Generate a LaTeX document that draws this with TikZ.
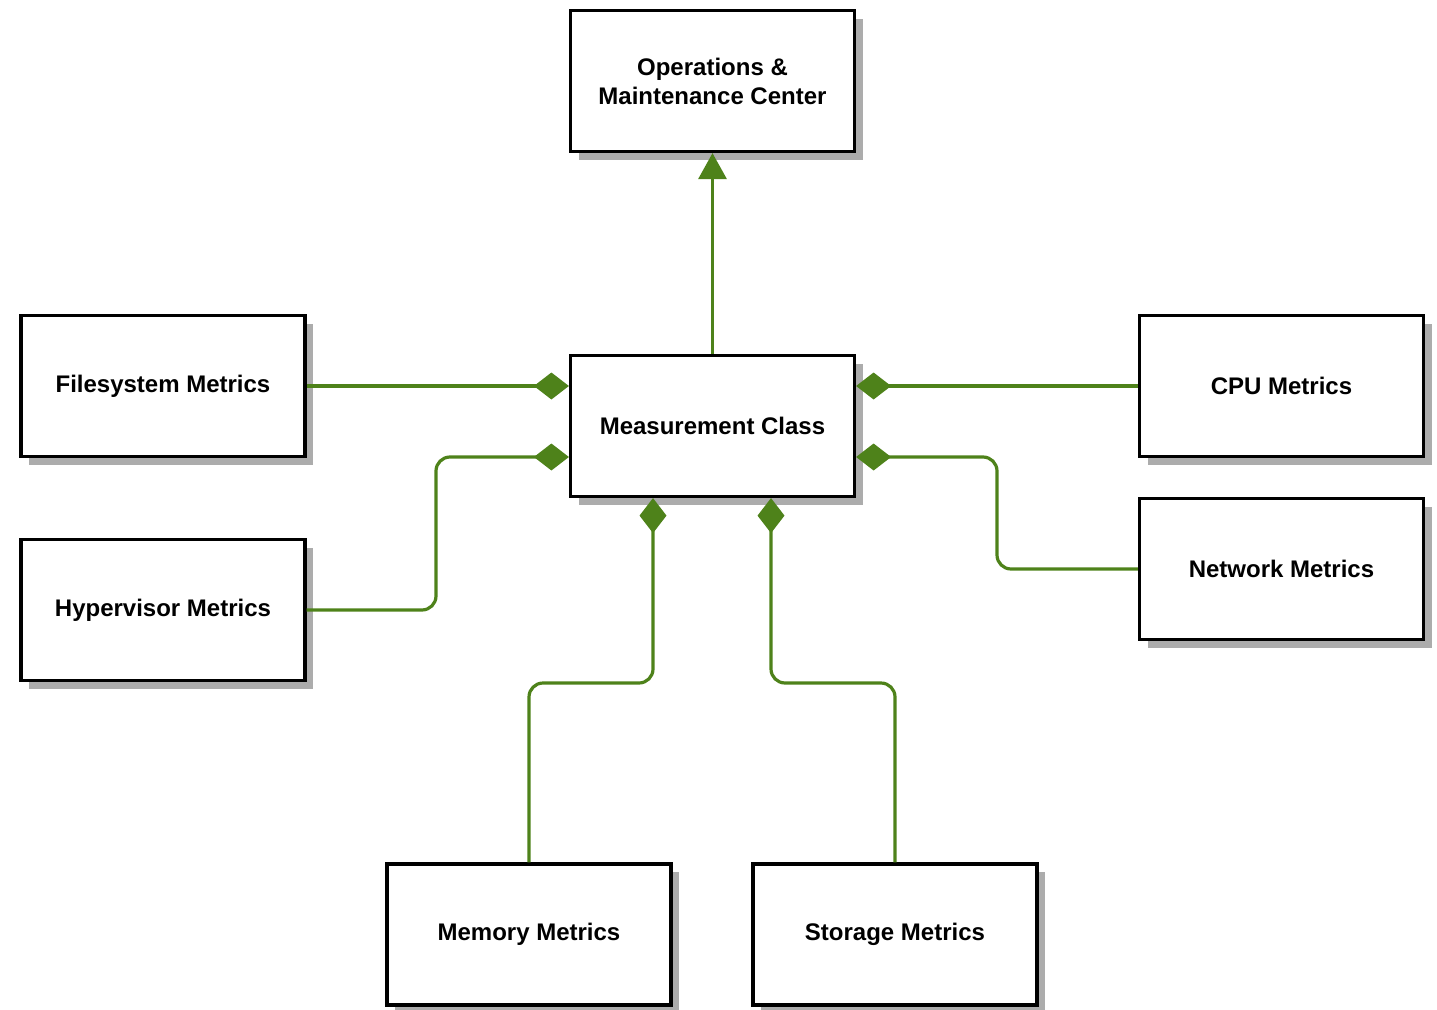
\documentclass[tikz,border=0pt]{standalone}
\usepackage{fontspec}
\setmainfont{Liberation Sans}
\usetikzlibrary{arrows.meta,shadows}
\definecolor{linkgreen}{RGB}{78,130,26}
\definecolor{shadowgray}{RGB}{172,172,172}
\begin{document}
\begin{tikzpicture}[x=1pt,y=-1pt,
  box/.style={draw=black, line width=3.2pt, fill=white,
    minimum width=284pt, minimum height=141pt, inner sep=0pt,
    align=center, font=\fontsize{24}{29}\selectfont\bfseries,
    drop shadow={shadow xshift=8pt, shadow yshift=-8pt, fill=shadowgray, opacity=1}},
  comp/.style={draw=linkgreen, line width=3.2pt, rounded corners=14pt,
    -{Diamond[length=35pt,width=27pt,fill=linkgreen]}},
  gen/.style={draw=linkgreen, line width=3.2pt,
    -{Triangle[length=26pt,width=28pt,fill=linkgreen]}}]
  \useasboundingbox (0,0) rectangle (1437,1009);

  % class boxes
  \node[box] (ops)  at (712.5,81)    {Operations \&\\Maintenance Center};
  \node[box] (meas) at (712.5,426)   {Measurement Class};
  \node[box] (fs)   at (163,386)     {Filesystem Metrics};
  \node[box] (hyp)  at (163,610)     {Hypervisor Metrics};
  \node[box] (cpu)  at (1281.5,386)  {CPU Metrics};
  \node[box] (net)  at (1281.5,569)  {Network Metrics};
  \node[box] (mem)  at (529,934.5)   {Memory Metrics};
  \node[box] (sto)  at (895,934.5)   {Storage Metrics};

  % generalisation up to the O&M centre
  \draw[gen] (meas.north) -- (ops.south);

  % compositions into the measurement class
  \draw[comp] (fs.east) -- (fs.east -| meas.west);
  \draw[comp] (cpu.west) -- (cpu.west -| meas.east);
  \draw[comp] (hyp.east) -- (436,610) -- (436,457) -- ([yshift=-31pt]meas.west);
  \draw[comp] (net.west) -- (997,569) -- (997,457) -- ([yshift=-31pt]meas.east);
  \draw[comp] (mem.north) -- (529,683) -- (653,683) -- ([xshift=-59.5pt]meas.south);
  \draw[comp] (sto.north) -- (895,683) -- (771,683) -- ([xshift=58.5pt]meas.south);
\end{tikzpicture}
\end{document}
